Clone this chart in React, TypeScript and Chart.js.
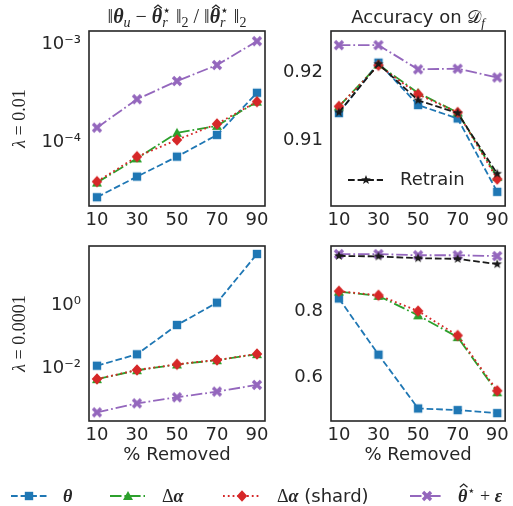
import React, { useEffect, useRef } from 'react';
import { Chart, registerables } from 'chart.js';

Chart.register(...registerables);

// ---------------- data ----------------
const removed = [10, 30, 50, 70, 90];

// lambda = 0.01 : relative parameter distance
const distTheta01 = [2.73e-5, 4.43e-5, 7.08e-5, 1.18e-4, 3.18e-4];
const distAlpha01 = [3.85e-5, 6.8e-5, 1.24e-4, 1.46e-4, 2.58e-4];
const distShard01 = [3.94e-5, 7.08e-5, 1.05e-4, 1.53e-4, 2.58e-4];
const distNoise01 = [1.4e-4, 2.73e-4, 4.19e-4, 6.1e-4, 1.07e-3];

// lambda = 0.01 : accuracy on D_f
const accTheta01 = [0.914, 0.9215, 0.9152, 0.9132, 0.9023];
const accAlpha01 = [0.915, 0.9212, 0.917, 0.9141, 0.9045];
const accShard01 = [0.915, 0.9211, 0.9168, 0.9141, 0.9042];
const accNoise01 = [0.9241, 0.9241, 0.9205, 0.9206, 0.9193];
const accRetrain01 = [0.9141, 0.9213, 0.9159, 0.914, 0.905];

// lambda = 0.0001 : relative parameter distance
const distTheta0001 = [0.0125, 0.0287, 0.242, 1.23, 42.4];
const distAlpha0001 = [0.0047, 0.009, 0.0137, 0.0187, 0.029];
const distShard0001 = [0.00476, 0.00916, 0.0139, 0.019, 0.0294];
const distNoise0001 = [4.2e-4, 8.1e-4, 1.26e-3, 1.9e-3, 3.1e-3];

// lambda = 0.0001 : accuracy on D_f
const accTheta0001 = [0.839, 0.669, 0.506, 0.501, 0.492];
const accAlpha0001 = [0.86, 0.847, 0.788, 0.722, 0.555];
const accShard0001 = [0.861, 0.849, 0.801, 0.727, 0.5595];
const accNoise0001 = [0.9735, 0.9735, 0.97, 0.97, 0.9675];
const accRetrain0001 = [0.968, 0.9665, 0.961, 0.959, 0.943];

// tick values
const logTicks01 = [1e-4, 1e-3];
const logTicks0001 = [1e-2, 1];
const accTicks01 = [0.91, 0.92];
const accTicks0001 = [0.6, 0.8];

// ---------------- styles ----------------
const W = 513;
const H = 506;
const TEXT = '#262626';
const BLUE = '#1f77b4';
const GREEN = '#2ca02c';
const RED = '#d62728';
const PURPLE = '#9467bd';
const BLACK = '#1a1a1a';
const LW = 1.8;
const DASHED = [6.7, 2.9];
const DASHDOT = [11.5, 2.9, 1.8, 2.9];
const DOTTED = [1.8, 3.0];
const SANS = "'DejaVu Sans', sans-serif";
const SERIF = "'Liberation Serif', 'DejaVu Serif', 'DejaVu Sans', serif";
const FS = 18;

const SUP: Record<string, string> = {
  '-': '⁻', '0': '⁰', '1': '¹', '2': '²', '3': '³', '4': '⁴', '5': '⁵', '6': '⁶', '7': '⁷', '8': '⁸', '9': '⁹',
};
function pow10Label(v: number): string {
  const e = Math.round(Math.log10(v));
  return '10' + String(e).split('').map((ch) => SUP[ch]).join('');
}

type Seg = { t: string; f: string; dy?: number; hat?: boolean; back?: boolean };

function layoutSegs(ctx: CanvasRenderingContext2D, segs: Seg[]) {
  let cx = 0;
  let prevStart = 0;
  let prevW = 0;
  const out: { seg: Seg; x: number; w: number }[] = [];
  for (const s of segs) {
    ctx.font = s.f;
    const w = ctx.measureText(s.t).width;
    if (s.back) {
      out.push({ seg: s, x: prevStart, w });
      cx = prevStart + Math.max(prevW, w);
      prevW = Math.max(prevW, w);
    } else {
      out.push({ seg: s, x: cx, w });
      prevStart = cx;
      prevW = w;
      cx += w;
    }
  }
  return { items: out, width: cx };
}

function drawRich(ctx: CanvasRenderingContext2D, segs: Seg[], x: number, y: number, align: 'left' | 'center') {
  ctx.save();
  ctx.fillStyle = TEXT;
  ctx.strokeStyle = TEXT;
  ctx.textBaseline = 'alphabetic';
  ctx.textAlign = 'left';
  const { items, width } = layoutSegs(ctx, segs);
  const x0 = align === 'center' ? x - width / 2 : x;
  for (const it of items) {
    ctx.font = it.seg.f;
    const yy = y + (it.seg.dy || 0);
    ctx.fillText(it.seg.t, x0 + it.x, yy);
    if (it.seg.hat) {
      const mid = x0 + it.x + it.w / 2 + 1;
      const top = yy - 18;
      ctx.beginPath();
      ctx.lineWidth = 1.3;
      ctx.moveTo(mid - 3.8, top + 3.2);
      ctx.lineTo(mid, top);
      ctx.lineTo(mid + 3.8, top + 3.2);
      ctx.stroke();
    }
  }
  ctx.restore();
}

const fMain = `${FS}px ${SERIF}`;
const fBI = `italic bold ${FS}px ${SERIF}`;
const fIt = `italic ${FS}px ${SERIF}`;
const fSub = `italic 13px ${SERIF}`;
const fSup = `13px ${SERIF}`;
// title fonts (slightly larger, as in the reference)
const tMain = `20px ${SERIF}`;
const tBI = `italic bold 20px ${SERIF}`;
const tSub = `italic 14px ${SERIF}`;
const tSup = `14px ${SERIF}`;

const titleDist: Seg[] = [
  { t: '‖', f: tMain },
  { t: 'θ', f: tBI },
  { t: 'u', f: tSub, dy: 4 },
  { t: ' − ', f: tMain },
  { t: 'θ', f: tBI, hat: true },
  { t: '⋆', f: tSup, dy: -8 },
  { t: 'r', f: tSub, dy: 4, back: true },
  { t: ' ‖', f: tMain },
  { t: '2', f: `14px ${SERIF}`, dy: 4 },
  { t: ' / ', f: tMain },
  { t: '‖', f: tMain },
  { t: 'θ', f: tBI, hat: true },
  { t: '⋆', f: tSup, dy: -8 },
  { t: 'r', f: tSub, dy: 4, back: true },
  { t: ' ‖', f: tMain },
  { t: '2', f: `14px ${SERIF}`, dy: 4 },
];
const titleAcc: Seg[] = [
  { t: 'Accuracy on ', f: `${FS}px ${SANS}` },
  { t: '𝒟', f: fMain },
  { t: 'f', f: fSub, dy: 4 },
];
const ylab01: Seg[] = [
  { t: 'λ', f: fIt },
  { t: ' = 0.01', f: fMain },
];
const ylab0001: Seg[] = [
  { t: 'λ', f: fIt },
  { t: ' = 0.0001', f: fMain },
];
const legendTexts: Seg[][] = [
  [{ t: 'θ', f: fBI }],
  [{ t: 'Δ', f: fMain }, { t: 'α', f: fBI }],
  [{ t: 'Δ', f: fMain }, { t: 'α', f: fBI }, { t: ' (shard)', f: `${FS}px ${SANS}` }],
  [{ t: 'θ', f: fBI, hat: true }, { t: '⋆', f: fSup, dy: -7 }, { t: ' + ', f: fMain }, { t: 'ε', f: fBI }],
];
// legend layout: [line start, line end, text x]
const legendPos = [
  [11, 47, 63],
  [110, 145, 162],
  [223, 260, 277],
  [410, 443, 458],
];
const LEGEND_Y = 496;

function makeMarker(kind: string, color: string): HTMLCanvasElement {
  const c = document.createElement('canvas');
  const S = 14;
  c.width = S;
  c.height = S;
  const g = c.getContext('2d')!;
  g.fillStyle = color;
  g.strokeStyle = color;
  const m = S / 2;
  g.beginPath();
  if (kind === 'square') {
    g.rect(m - 4.2, m - 4.2, 8.4, 8.4);
    g.fill();
  } else if (kind === 'triangle') {
    g.moveTo(m, m - 5);
    g.lineTo(m + 5, m + 4);
    g.lineTo(m - 5, m + 4);
    g.closePath();
    g.fill();
  } else if (kind === 'diamond') {
    g.moveTo(m, m - 5.8);
    g.lineTo(m + 5.3, m);
    g.lineTo(m, m + 5.8);
    g.lineTo(m - 5.3, m);
    g.closePath();
    g.fill();
  } else if (kind === 'x') {
    g.lineWidth = 3.4;
    g.moveTo(m - 4, m - 4);
    g.lineTo(m + 4, m + 4);
    g.moveTo(m - 4, m + 4);
    g.lineTo(m + 4, m - 4);
    g.stroke();
  } else if (kind === 'star') {
    for (let i = 0; i < 10; i++) {
      const r = i % 2 === 0 ? 5 : 2.1;
      const a = -Math.PI / 2 + (i * Math.PI) / 5;
      const px = m + r * Math.cos(a);
      const py = m + r * Math.sin(a);
      if (i === 0) g.moveTo(px, py);
      else g.lineTo(px, py);
    }
    g.closePath();
    g.fill();
  }
  return c;
}

function ds(label: string, data: number[], color: string, dash: number[], marker: HTMLCanvasElement, order: number) {
  return {
    label,
    data: removed.map((x, i) => ({ x, y: data[i] })),
    borderColor: color,
    backgroundColor: color,
    borderWidth: LW,
    borderDash: dash,
    borderCapStyle: 'butt' as const,
    pointStyle: marker,
    pointRadius: 5,
    pointHoverRadius: 5,
    order,
    tension: 0,
    fill: false,
    clip: false as const,
  };
}

function xScale(withTitle: boolean) {
  return {
    type: 'linear' as const,
    min: 6,
    max: 94,
    grid: { display: false, drawTicks: false },
    border: { display: false },
    afterBuildTicks: (s: any) => {
      s.ticks = removed.map((v) => ({ value: v }));
    },
    afterFit: (s: any) => {
      s.height = withTitle ? 45 : 30;
    },
    ticks: {
      font: { family: SANS, size: FS },
      color: TEXT,
      padding: 4,
      maxRotation: 0,
      autoSkip: false,
      callback: (v: any) => String(v),
    },
    title: {
      display: withTitle,
      text: '% Removed',
      font: { family: SANS, size: FS },
      color: TEXT,
      padding: 0,
    },
  };
}

function yScale(kind: 'log' | 'lin', min: number, max: number, ticks: number[], digits: number) {
  return {
    type: kind === 'log' ? ('logarithmic' as const) : ('linear' as const),
    min,
    max,
    grid: { display: false, drawTicks: false },
    border: { display: false },
    afterBuildTicks: (s: any) => {
      s.ticks = ticks.map((v) => ({ value: v }));
    },
    afterFit: (s: any) => {
      s.width = 60;
    },
    ticks: {
      font: { family: SANS, size: FS },
      color: TEXT,
      padding: 8,
      autoSkip: false,
      callback: (v: any) => (kind === 'log' ? pow10Label(Number(v)) : Number(v).toFixed(digits)),
    },
  };
}

const framePlugin = {
  id: 'frame',
  afterDraw(chart: any) {
    const a = chart.chartArea;
    const ctx = chart.ctx;
    ctx.save();
    ctx.strokeStyle = TEXT;
    ctx.lineWidth = 1.6;
    ctx.strokeRect(a.left, a.top, a.right - a.left, a.bottom - a.top);
    ctx.restore();
  },
};

function textPlugin(draw: (chart: any) => void) {
  return { id: 'text' + Math.random().toString(36).slice(2), afterDraw: draw };
}

function drawLegendLine(ctx: CanvasRenderingContext2D, d: any, x1: number, x2: number, y: number) {
  ctx.save();
  ctx.strokeStyle = d.borderColor;
  ctx.lineWidth = d.borderWidth;
  ctx.setLineDash(d.borderDash);
  ctx.beginPath();
  ctx.moveTo(x1, y);
  ctx.lineTo(x2, y);
  ctx.stroke();
  ctx.setLineDash([]);
  const img = d.pointStyle as HTMLCanvasElement;
  ctx.drawImage(img, Math.round((x1 + x2) / 2 - img.width / 2), Math.round(y - img.height / 2));
  ctx.restore();
}

function drawYLabel(ctx: CanvasRenderingContext2D, segs: Seg[], cy: number) {
  ctx.save();
  ctx.translate(25, cy);
  ctx.rotate(-Math.PI / 2);
  drawRich(ctx, segs, 0, 0, 'center');
  ctx.restore();
}

export default function App() {
  const r1 = useRef<HTMLCanvasElement>(null);
  const r2 = useRef<HTMLCanvasElement>(null);
  const r3 = useRef<HTMLCanvasElement>(null);
  const r4 = useRef<HTMLCanvasElement>(null);

  useEffect(() => {
    const mSq = makeMarker('square', BLUE);
    const mTri = makeMarker('triangle', GREEN);
    const mDia = makeMarker('diamond', RED);
    const mX = makeMarker('x', PURPLE);
    const mStar = makeMarker('star', BLACK);

    const distSets = (a: number[], b: number[], c: number[], d: number[]) => [
      ds('θ', a, BLUE, DASHED, mSq, 5),
      ds('Δα', b, GREEN, DASHDOT, mTri, 4),
      ds('Δα (shard)', c, RED, DOTTED, mDia, 3),
      ds('θ*+ε', d, PURPLE, DASHDOT, mX, 2),
    ];
    const accSets = (a: number[], b: number[], c: number[], d: number[], e: number[]) => [
      ...distSets(a, b, c, d),
      ds('Retrain', e, BLACK, DASHED, mStar, 1),
    ];

    const baseOptions = (pad: any, x: any, y: any) => ({
      responsive: false,
      animation: false as const,
      devicePixelRatio: 1,
      events: [] as any[],
      layout: { padding: pad },
      plugins: { legend: { display: false }, tooltip: { enabled: false }, title: { display: false } },
      scales: { x, y },
    });

    const charts: Chart[] = [];

    charts.push(
      new Chart(r1.current!, {
        type: 'line',
        data: { datasets: distSets(distTheta01, distAlpha01, distShard01, distNoise01) as any },
        options: baseOptions(
          { left: 29, top: 31, right: 248, bottom: 270 },
          xScale(false),
          yScale('log', 2.22e-5, 1.358e-3, logTicks01, 0),
        ) as any,
        plugins: [
          framePlugin,
          textPlugin((chart) => {
            const ctx = chart.ctx;
            const a = chart.chartArea;
            drawRich(ctx, titleDist, (a.left + a.right) / 2, 23, 'center');
            drawYLabel(ctx, ylab01, (a.top + a.bottom) / 2);
          }),
        ],
      }),
    );

    charts.push(
      new Chart(r2.current!, {
        type: 'line',
        data: { datasets: accSets(accTheta01, accAlpha01, accShard01, accNoise01, accRetrain01) as any },
        options: baseOptions(
          { left: 271, top: 31, right: 4, bottom: 270 },
          xScale(false),
          yScale('lin', 0.9002, 0.9262, accTicks01, 2),
        ) as any,
        plugins: [
          framePlugin,
          textPlugin((chart) => {
            const ctx = chart.ctx;
            const a = chart.chartArea;
            drawRich(ctx, titleAcc, (a.left + a.right) / 2, 23, 'center');
            const d = chart.data.datasets[4];
            drawLegendLine(ctx, d, 348, 383, 180);
            ctx.save();
            ctx.font = `${FS}px ${SANS}`;
            ctx.fillStyle = TEXT;
            ctx.textBaseline = 'middle';
            ctx.fillText(d.label, 400, 180);
            ctx.restore();
          }),
        ],
      }),
    );

    charts.push(
      new Chart(r3.current!, {
        type: 'line',
        data: { datasets: distSets(distTheta0001, distAlpha0001, distShard0001, distNoise0001) as any },
        options: baseOptions(
          { left: 29, top: 246, right: 248, bottom: 40 },
          xScale(true),
          yScale('log', 2.24e-4, 75.9, logTicks0001, 0),
        ) as any,
        plugins: [
          framePlugin,
          textPlugin((chart) => {
            const ctx = chart.ctx;
            const a = chart.chartArea;
            drawYLabel(ctx, ylab0001, (a.top + a.bottom) / 2);
            chart.data.datasets.slice(0, 4).forEach((d: any, i: number) => {
              const [x1, x2, tx] = legendPos[i];
              drawLegendLine(ctx, d, x1, x2, LEGEND_Y);
              drawRich(ctx, legendTexts[i], tx, LEGEND_Y + 6, 'left');
            });
          }),
        ],
      }),
    );

    charts.push(
      new Chart(r4.current!, {
        type: 'line',
        data: { datasets: accSets(accTheta0001, accAlpha0001, accShard0001, accNoise0001, accRetrain0001) as any },
        options: baseOptions(
          { left: 271, top: 246, right: 4, bottom: 40 },
          xScale(true),
          yScale('lin', 0.468, 0.998, accTicks0001, 1),
        ) as any,
        plugins: [framePlugin],
      }),
    );

    return () => {
      charts.forEach((c) => c.destroy());
    };
  }, []);

  const st: React.CSSProperties = { position: 'absolute', left: 0, top: 0, width: W, height: H };
  return (
    <div style={{ position: 'absolute', left: 0, top: 0, width: W, height: H, background: '#fff' }}>
      <canvas ref={r1} width={W} height={H} style={st} />
      <canvas ref={r2} width={W} height={H} style={st} />
      <canvas ref={r3} width={W} height={H} style={st} />
      <canvas ref={r4} width={W} height={H} style={st} />
    </div>
  );
}
